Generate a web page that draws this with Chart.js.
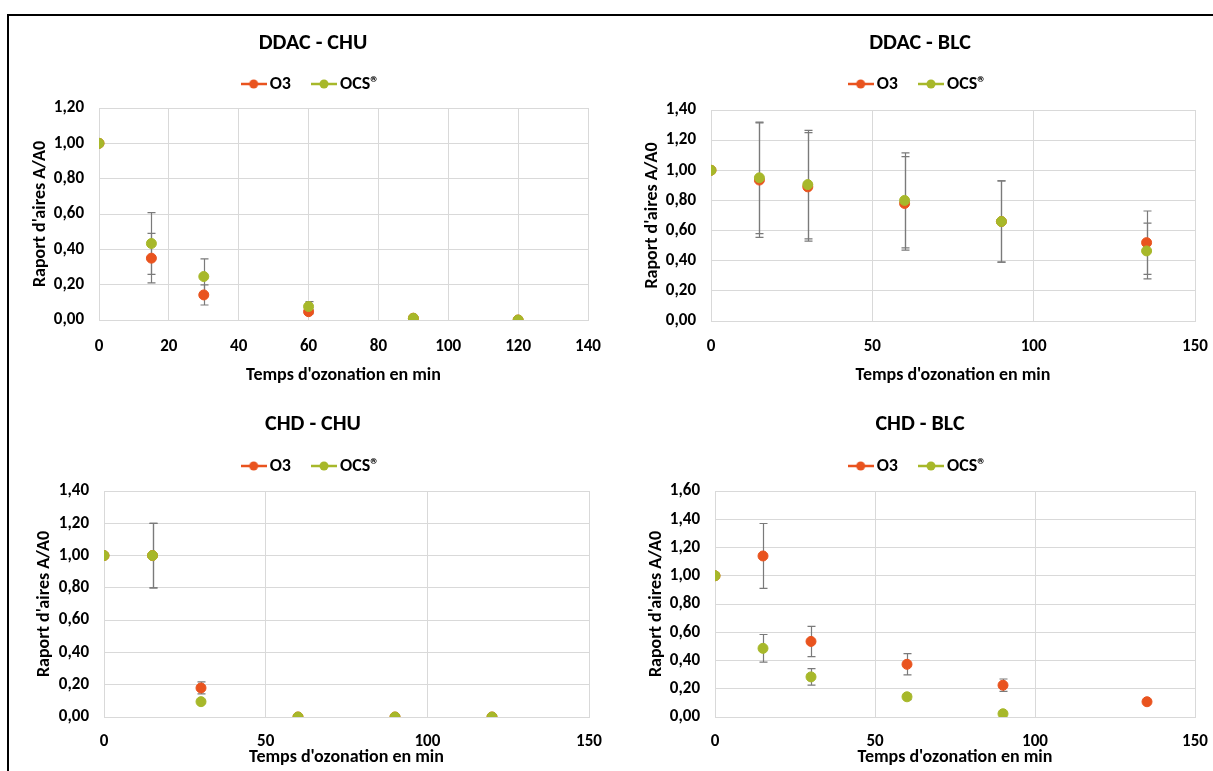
<!DOCTYPE html>
<html>
<head>
<meta charset="utf-8">
<script src="https://cdn.jsdelivr.net/npm/chart.js@4.4.1/dist/chart.umd.min.js"></script>
<style>
  body { margin: 0; background: #fff; width: 1213px; height: 771px; overflow: hidden; position: relative; }
  #frame { position: absolute; left: 7px; top: 14px; width: 1300px; height: 900px;
           border-top: 2px solid #000; border-left: 2px solid #000; }
  canvas { position: absolute; }
</style>
</head>
<body>
<div id="frame"></div>
<canvas id="c1"></canvas>
<canvas id="c2"></canvas>
<canvas id="c3"></canvas>
<canvas id="c4"></canvas>
<script>
// sampling times (min)
var timesCHU = [0, 15, 30, 60, 90, 120];
var timesBLC = [0, 15, 30, 60, 90, 135];

// DDAC - CHU
var ddacChuO3 = [1.00, 0.35, 0.142, 0.047, 0.01, 0.00];
var ddacChuO3Err = [0, 0.14, 0.057, 0.012, 0, 0];
var ddacChuOcs = [1.00, 0.433, 0.246, 0.076, 0.01, 0.00];
var ddacChuOcsErr = [0, 0.175, 0.10, 0.028, 0, 0];

// DDAC - BLC
var ddacBlcO3 = [1.00, 0.935, 0.89, 0.78, 0.66, 0.52];
var ddacBlcO3Err = [0, 0.38, 0.36, 0.31, 0.27, 0.21];
var ddacBlcOcs = [1.00, 0.95, 0.905, 0.80, 0.66, 0.465];
var ddacBlcOcsErr = [0, 0.37, 0.36, 0.315, 0.27, 0.185];

// CHD - CHU
var chdChuO3 = [1.00, 1.00, 0.18, 0.00, 0.00, 0.00];
var chdChuO3Err = [0, 0.20, 0.037, 0, 0, 0];
var chdChuOcs = [1.00, 1.00, 0.095, 0.00, 0.00, 0.00];
var chdChuOcsErr = [0, 0.20, 0.01, 0, 0, 0];

// CHD - BLC
var chdBlcO3 = [1.00, 1.14, 0.535, 0.373, 0.225, 0.108];
var chdBlcO3Err = [0, 0.23, 0.107, 0.075, 0.044, 0];
var chdBlcOcs = [1.00, 0.486, 0.284, 0.143, 0.023, null];
var chdBlcOcsErr = [0, 0.098, 0.058, 0.02, 0, 0];

var seriesNames = ["O3", "OCS®"];
var xTitle = "Temps d'ozonation en min";
var yTitle = "Raport d'aires A/A0";

var o3Color = "#E9531E";
var ocsColor = "#A7B82A";
var FONT = "Carlito, Lato, sans-serif";

var TITLE_SIZE = 22, LEG_SIZE = 18, TICK_SIZE = 17, AXIS_SIZE = 18;

function pts(xs, ys) {
  var out = [];
  for (var i = 0; i < xs.length; i++) {
    if (ys[i] !== null) out.push({x: xs[i], y: ys[i]});
  }
  return out;
}
function errs(ys, es) {
  var out = [];
  for (var i = 0; i < ys.length; i++) {
    if (ys[i] !== null) out.push(es[i]);
  }
  return out;
}

// legend marker: line with a dot, like the spreadsheet legend
function legendMarker(color) {
  var c = document.createElement('canvas');
  c.width = 26; c.height = 12;
  var g = c.getContext('2d');
  g.strokeStyle = color; g.lineWidth = 2.5;
  g.beginPath(); g.moveTo(0, 6); g.lineTo(26, 6); g.stroke();
  g.fillStyle = color;
  g.beginPath(); g.arc(13, 6, 4.5, 0, Math.PI * 2); g.fill();
  return c;
}

// error bars drawn from the dataset "errors" arrays through the scales
var errorBars = {
  id: 'errorBars',
  beforeDatasetsDraw: function (chart) {
    var ctx = chart.ctx, xs = chart.scales.x, ys = chart.scales.y;
    ctx.save();
    ctx.strokeStyle = '#7A7A7A';
    ctx.lineWidth = 1.2;
    chart.data.datasets.forEach(function (ds) {
      if (!ds.errors) return;
      ds.data.forEach(function (p, i) {
        var e = ds.errors[i];
        if (!e) return;
        var px = Math.round(xs.getPixelForValue(p.x)) + 0.5;
        var t = ys.getPixelForValue(p.y + e), b = ys.getPixelForValue(p.y - e);
        ctx.beginPath();
        ctx.moveTo(px, t); ctx.lineTo(px, b);
        ctx.moveTo(px - 4, t); ctx.lineTo(px + 4, t);
        ctx.moveTo(px - 4, b); ctx.lineTo(px + 4, b);
        ctx.stroke();
      });
    });
    ctx.restore();
  }
};

function makeChart(id, box, plot, text, xs, o3, o3e, ocs, ocse, xMax, xStep, yMax) {
  var cv = document.getElementById(id);
  cv.width = box.w; cv.height = box.h;
  cv.style.left = box.l + 'px'; cv.style.top = box.t + 'px';

  var titleLH = TITLE_SIZE * 1.2;
  var legPad = 26;
  var padTitleTop = text.titleY - box.t - titleLH / 2;
  var legTop = text.legendY - legPad - LEG_SIZE / 2;
  var padTitleBottom = legTop - (box.t + padTitleTop + titleLH);
  var spacer = plot.t - text.legendY - LEG_SIZE / 2 - 10 - 1.2;
  var axisLH = AXIS_SIZE * 1.2;
  var tickLH = TICK_SIZE * 1.2;
  // left padding so that title and legend are centred on text.centerX
  var padRight = box.l + box.w - plot.r;
  var padLeft = 2 * (text.centerX - box.l) - (plot.r - box.l);

  return new Chart(cv, {
    type: 'scatter',
    data: {
      datasets: [
        {
          label: seriesNames[0],
          data: pts(xs, o3),
          errors: errs(o3, o3e),
          backgroundColor: o3Color,
          borderColor: o3Color,
          pointRadius: 5,
          pointHoverRadius: 5,
          order: 1
        },
        {
          label: seriesNames[1],
          data: pts(xs, ocs),
          errors: errs(ocs, ocse),
          backgroundColor: ocsColor,
          borderColor: ocsColor,
          pointRadius: 5,
          pointHoverRadius: 5,
          order: 0
        }
      ]
    },
    options: {
      responsive: false,
      animation: false,
      layout: { padding: { left: padLeft, top: 0, bottom: 0, right: padRight } },
      plugins: {
        title: {
          display: true,
          text: text.title,
          color: '#000',
          font: { family: FONT, size: TITLE_SIZE, weight: 'bold', lineHeight: 1.2 },
          padding: { top: padTitleTop, bottom: padTitleBottom }
        },
        // empty subtitle placed under the legend, used as a gap
        subtitle: {
          display: true,
          text: '',
          weight: 500,
          font: { size: 1, lineHeight: 1.2 },
          padding: { top: 0, bottom: spacer }
        },
        legend: {
          labels: {
            usePointStyle: true,
            pointStyleWidth: 14,
            padding: legPad,
            color: '#000',
            font: { family: FONT, size: LEG_SIZE, weight: 'bold' },
            generateLabels: function (chart) {
              return chart.data.datasets.map(function (ds, i) {
                return {
                  text: ds.label,
                  pointStyle: legendMarker(ds.borderColor),
                  fillStyle: ds.borderColor,
                  strokeStyle: ds.borderColor,
                  lineWidth: 0,
                  fontColor: '#000',
                  datasetIndex: i
                };
              });
            }
          }
        },
        tooltip: { enabled: false }
      },
      scales: {
        x: {
          type: 'linear',
          min: 0, max: xMax,
          afterFit: function (s) {
            s.height = box.t + box.h - plot.b;
            s.paddingLeft = 0; s.paddingRight = 0;
          },
          ticks: {
            stepSize: xStep,
            padding: text.xTickY - plot.b - tickLH / 2,
            color: '#000',
            font: { family: FONT, size: TICK_SIZE, weight: 'bold' }
          },
          grid: { color: '#D9D9D9', drawTicks: false },
          border: { color: '#D9D9D9' },
          title: {
            display: true,
            text: xTitle,
            color: '#000',
            font: { family: FONT, size: AXIS_SIZE, weight: 'bold', lineHeight: 1.2 },
            padding: { top: 0, bottom: box.t + box.h - text.xTitleY - axisLH / 2 }
          }
        },
        y: {
          min: 0, max: yMax,
          afterFit: function (s) { s.width = plot.l - box.l - padLeft; },
          ticks: {
            stepSize: 0.2,
            padding: 15,
            color: '#000',
            font: { family: FONT, size: TICK_SIZE, weight: 'bold' },
            callback: function (v) { return v.toFixed(2).replace('.', ','); }
          },
          grid: { color: '#D9D9D9', drawTicks: false },
          border: { color: '#D9D9D9' },
          title: {
            display: true,
            text: yTitle,
            color: '#000',
            font: { family: FONT, size: AXIS_SIZE, weight: 'bold', lineHeight: 1.2 },
            padding: { top: text.yTitleX - box.l - padLeft - axisLH / 2, bottom: 0 }
          }
        }
      }
    },
    plugins: [errorBars]
  });
}

makeChart('c1', {l: 12, t: 18, w: 594, h: 372}, {l: 99, r: 588, t: 108, b: 320},
  {title: 'DDAC - CHU', centerX: 313, titleY: 43, legendY: 84, xTickY: 347, xTitleY: 375, yTitleX: 40},
  timesCHU, ddacChuO3, ddacChuO3Err, ddacChuOcs, ddacChuOcsErr, 140, 20, 1.2);

makeChart('c2', {l: 612, t: 18, w: 601, h: 372}, {l: 711, r: 1195, t: 110, b: 321},
  {title: 'DDAC - BLC', centerX: 920, titleY: 43, legendY: 84, xTickY: 347, xTitleY: 375, yTitleX: 652},
  timesBLC, ddacBlcO3, ddacBlcO3Err, ddacBlcOcs, ddacBlcOcsErr, 150, 50, 1.4);

makeChart('c3', {l: 12, t: 392, w: 594, h: 379}, {l: 104, r: 589, t: 491, b: 717},
  {title: 'CHD - CHU', centerX: 313, titleY: 424, legendY: 466, xTickY: 742, xTitleY: 757, yTitleX: 44},
  timesCHU, chdChuO3, chdChuO3Err, chdChuOcs, chdChuOcsErr, 150, 50, 1.4);

makeChart('c4', {l: 612, t: 392, w: 601, h: 379}, {l: 715, r: 1195, t: 491, b: 717},
  {title: 'CHD - BLC', centerX: 920, titleY: 424, legendY: 466, xTickY: 742, xTitleY: 757, yTitleX: 656},
  timesBLC, chdBlcO3, chdBlcO3Err, chdBlcOcs, chdBlcOcsErr, 150, 50, 1.6);
</script>
</body>
</html>
